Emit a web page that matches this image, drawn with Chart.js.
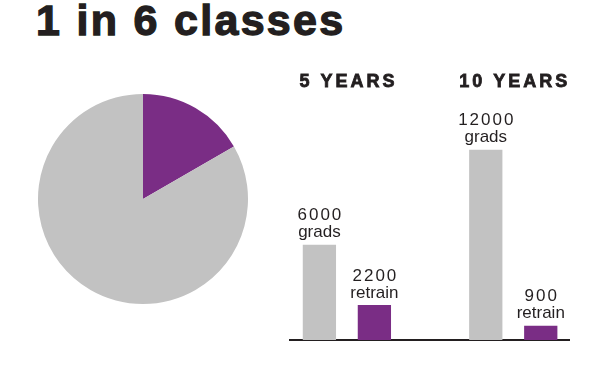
<!DOCTYPE html>
<html>
<head>
<meta charset="utf-8">
<script src="https://cdn.jsdelivr.net/npm/chart.js@4"></script>
<style>
  body { margin: 0; background: #fff; width: 600px; height: 368px; position: relative; overflow: hidden; }
  #title {
    position: absolute; left: 36px; top: -1px;
    font: bold 43px "Liberation Sans", Arial, sans-serif;
    line-height: 43px; letter-spacing: 2.3px; color: #231f20; white-space: nowrap;
    -webkit-text-stroke: 1.3px #231f20;
  }
  #pieChart { position: absolute; left: 38px; top: 94px; }
  #barChart { position: absolute; left: 280px; top: 0; }
</style>
</head>
<body>
<div id="title">1 in 6 classes</div>
<canvas id="pieChart" width="210" height="210"></canvas>
<canvas id="barChart" width="320" height="368"></canvas>
<script>
const pieLabels = ["retrain", "grads"];
const pieValues = [1, 5];

const periods = ["5 YEARS", "10 YEARS"];
const seriesNames = ["grads", "retrain"];
const gradsValues = [6000, 12000];
const retrainValues = [2200, 900];

const purple = "#7a2d85";
const grey = "#c2c2c2";
const ink = "#231f20";

new Chart(document.getElementById("pieChart").getContext("2d"), {
  type: "pie",
  data: {
    labels: pieLabels,
    datasets: [{ data: pieValues, backgroundColor: [purple, grey], borderWidth: 0 }],
  },
  options: {
    responsive: false,
    animation: false,
    plugins: { legend: { display: false }, tooltip: { enabled: false } },
  },
});

// labels over the bars and the period names above each group
const barText = {
  id: "barText",
  afterDatasetsDraw(chart) {
    const ctx = chart.ctx;
    const xScale = chart.scales.x;
    ctx.save();
    ctx.fillStyle = ink;
    ctx.strokeStyle = ink;
    ctx.textAlign = "center";
    ctx.textBaseline = "alphabetic";

    ctx.font = "bold 18px 'Liberation Sans', Arial, sans-serif";
    ctx.letterSpacing = "3px";
    ctx.lineWidth = 0.8;
    periods.forEach((p, i) => {
      const x = xScale.getPixelForValue(i) + 1.5;
      const y = chart.chartArea.top - 31;
      ctx.fillText(p, x, y);
      ctx.strokeText(p, x, y);
    });

    chart.data.datasets.forEach((ds, d) => {
      chart.getDatasetMeta(d).data.forEach((bar, i) => {
        const v = ds.data[i].y;
        ctx.font = "17px 'Liberation Sans', Arial, sans-serif";
        ctx.letterSpacing = "2px";
        ctx.fillText(String(v), bar.x + 1, bar.y - 24.5);
        ctx.letterSpacing = "0px";
        ctx.fillText(seriesNames[d], bar.x, bar.y - 7.5);
      });
    });
    ctx.restore();
  },
};

new Chart(document.getElementById("barChart").getContext("2d"), {
  type: "bar",
  data: {
    datasets: [
      {
        label: seriesNames[0],
        data: gradsValues.map((v, i) => ({ x: i, y: v })),
        backgroundColor: grey,
      },
      {
        label: seriesNames[1],
        data: retrainValues.map((v, i) => ({ x: i, y: v })),
        backgroundColor: purple,
      },
    ],
  },
  options: {
    responsive: false,
    animation: false,
    categoryPercentage: 0.661,
    barPercentage: 0.605,
    layout: { padding: { left: 10, right: 31, top: 118, bottom: 28 } },
    scales: {
      x: {
        type: "linear",
        offset: false,
        min: -0.342,
        max: 1.335,
        afterBuildTicks: (scale) => {
          scale.ticks = periods.map((p, i) => ({ value: i }));
        },
        grid: { display: false, drawTicks: false, offset: false },
        ticks: { display: false },
        border: { display: true, color: ink, width: 2 },
      },
      y: { display: false, min: 0, max: 14000 },
    },
    plugins: { legend: { display: false }, tooltip: { enabled: false } },
  },
  plugins: [barText],
});
</script>
</body>
</html>
